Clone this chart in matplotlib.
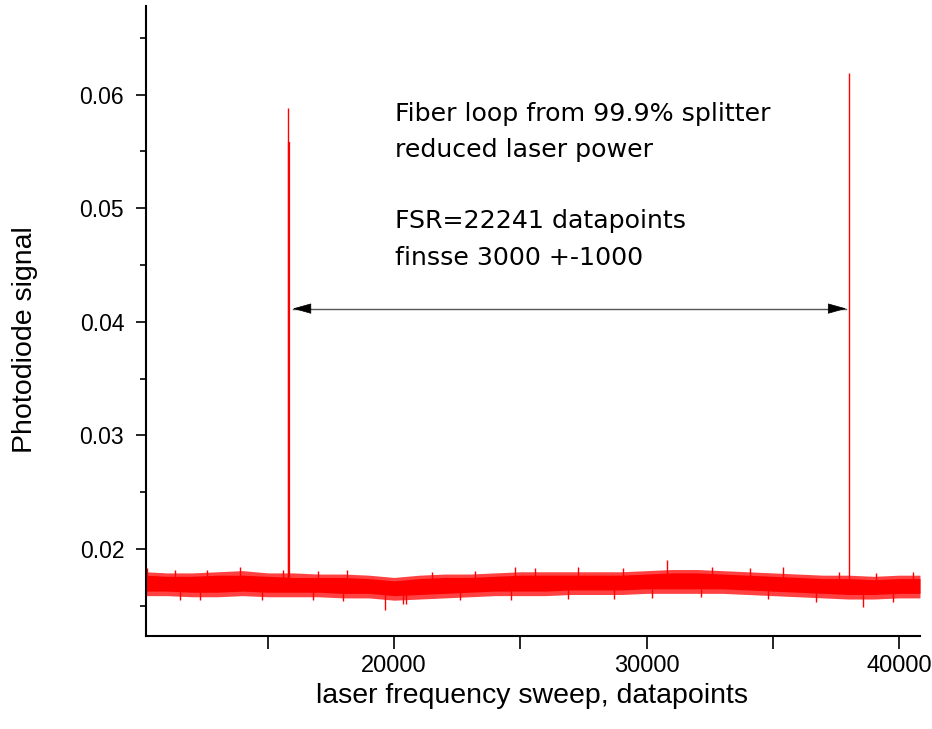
import matplotlib.pyplot as plt
from matplotlib.ticker import MultipleLocator

# noise band of the photodiode trace, every 1000 datapoints
sweep = [10160, 11000, 12000, 13000, 14000, 15000, 16000, 17000, 18000, 19000,
         20000, 21000, 22000, 23000, 24000, 25000, 26000, 27000, 28000, 29000,
         30000, 31000, 32000, 33000, 34000, 35000, 36000, 37000, 38000, 39000,
         40000, 40830]
outer_hi = [0.0180, 0.0179, 0.0179, 0.0180, 0.0181, 0.0179, 0.0179, 0.0178, 0.0178, 0.0177,
            0.0175, 0.0177, 0.0178, 0.0178, 0.0179, 0.0180, 0.0180, 0.0180, 0.0180, 0.0180,
            0.0181, 0.0182, 0.0182, 0.0181, 0.0180, 0.0179, 0.0178, 0.0177, 0.0177, 0.0176,
            0.0177, 0.0177]
core_hi = [0.0177, 0.0176, 0.0176, 0.0177, 0.0177, 0.0176, 0.0175, 0.0175, 0.0175, 0.0174,
           0.0172, 0.0174, 0.0175, 0.0175, 0.0176, 0.0177, 0.0177, 0.0177, 0.0177, 0.0177,
           0.0178, 0.0179, 0.0179, 0.0178, 0.0177, 0.0176, 0.0175, 0.0174, 0.0174, 0.0173,
           0.0174, 0.0174]
core_lo = [0.0163, 0.0163, 0.0162, 0.0162, 0.0163, 0.0162, 0.0162, 0.0162, 0.0161, 0.0161,
           0.0159, 0.0160, 0.0161, 0.0162, 0.0163, 0.0163, 0.0163, 0.0164, 0.0164, 0.0164,
           0.0165, 0.0165, 0.0165, 0.0165, 0.0164, 0.0163, 0.0162, 0.0161, 0.0160, 0.0160,
           0.0161, 0.0161]
outer_lo = [0.0159, 0.0159, 0.0158, 0.0158, 0.0159, 0.0158, 0.0158, 0.0158, 0.0157, 0.0157,
            0.0155, 0.0156, 0.0157, 0.0158, 0.0159, 0.0159, 0.0159, 0.0160, 0.0160, 0.0160,
            0.0161, 0.0161, 0.0161, 0.0161, 0.0160, 0.0159, 0.0158, 0.0157, 0.0156, 0.0156,
            0.0157, 0.0157]

# single noise spikes sticking out above / below the band
up_x = [10200, 11320, 12600, 13890, 15610, 17000, 18120, 21500, 23200, 24780, 25570,
        27280, 29060, 30820, 32600, 34100, 35390, 37640, 39100, 40540]
up_y = [0.0183, 0.0182, 0.0182, 0.0184, 0.0182, 0.0181, 0.0182, 0.0180, 0.0181, 0.0184, 0.0183,
        0.0184, 0.0183, 0.0190, 0.0184, 0.0183, 0.0184, 0.0180, 0.0179, 0.0180]
down_x = [11520, 12310, 14750, 16800, 17980, 19630, 20360, 20490, 22600, 24650, 26900,
          28730, 30200, 32160, 34800, 36710, 38560, 39750]
down_y = [0.0155, 0.0155, 0.0155, 0.0155, 0.0154, 0.01465, 0.0152, 0.0152, 0.0155, 0.0155, 0.0156,
          0.0156, 0.0157, 0.0158, 0.0156, 0.0153, 0.0149, 0.0153]

# resonance peaks
peak_x = [15800, 15830, 38010]
peak_top = [0.0588, 0.0558, 0.0619]
peak_lw = [1.0, 1.6, 1.0]

fsr_from, fsr_to, fsr_y = 15990, 37910, 0.04116

fig = plt.figure(figsize=(9.32, 7.29), dpi=100)
ax = fig.add_axes([0.1563, 0.1276, 0.8308, 0.8642])

ax.fill_between(sweep, outer_lo, outer_hi, color='#ff2020', lw=0, alpha=0.85)
ax.fill_between(sweep, core_lo, core_hi, color='red', lw=0)
ax.vlines(up_x, 0.0172, up_y, color='red', lw=1)
ax.vlines(down_x, down_y, 0.0165, color='red', lw=1)
for x, top, lw in zip(peak_x, peak_top, peak_lw):
    ax.vlines(x, 0.017, top, color='red', lw=lw)

# FSR arrow: grey shaft, black heads
ax.plot([fsr_from, fsr_to], [fsr_y, fsr_y], color='#555555', lw=1)
for tip, tail in [(fsr_from, fsr_from + 700), (fsr_to, fsr_to - 700)]:
    ax.annotate('', xy=(tip, fsr_y), xytext=(tail, fsr_y),
                arrowprops=dict(arrowstyle='-|>,head_length=1.0,head_width=0.28',
                                mutation_scale=12, color='black', lw=0.5, shrinkA=0, shrinkB=0))

ax.set_xlim(10160, 40830)
ax.set_ylim(0.01235, 0.06779)
ax.xaxis.set_major_locator(MultipleLocator(10000))
ax.xaxis.set_minor_locator(MultipleLocator(5000))
ax.yaxis.set_major_locator(MultipleLocator(0.01))
ax.yaxis.set_minor_locator(MultipleLocator(0.005))
ax.yaxis.set_major_formatter(plt.FormatStrFormatter('%.2f'))

for side in ['top', 'right']:
    ax.spines[side].set_visible(False)
for side in ['left', 'bottom']:
    ax.spines[side].set_linewidth(1.5)

ax.tick_params(axis='x', which='both', length=9, width=1.2, labelsize=17, pad=5)
ax.tick_params(axis='y', which='major', length=7.5, width=1.2, labelsize=16.5, pad=8)
ax.tick_params(axis='y', which='minor', length=4.5, width=1.2)
for lab in ax.get_xticklabels() + ax.get_yticklabels():
    lab.set_family('Liberation Sans')

ax.set_xlabel('laser frequency sweep, datapoints', family='Liberation Sans', fontsize=20.5)
ax.set_ylabel('Photodiode signal', family='Liberation Sans', fontsize=20.5)
ax.xaxis.set_label_coords(0.499, -0.074)
ax.yaxis.set_label_coords(-0.139, 0.47)

notes = ['Fiber loop from 99.9% splitter', 'reduced laser power',
         'FSR=22241 datapoints', 'finsse 3000 +-1000']
baselines = [120.5, 157, 228, 265]
for txt, yb in zip(notes, baselines):
    fig.text(395 / 932, 1 - yb / 729, txt, fontsize=18.2, family='DejaVu Sans',
             va='baseline', ha='left')

fig.savefig('out.png', dpi=100)
